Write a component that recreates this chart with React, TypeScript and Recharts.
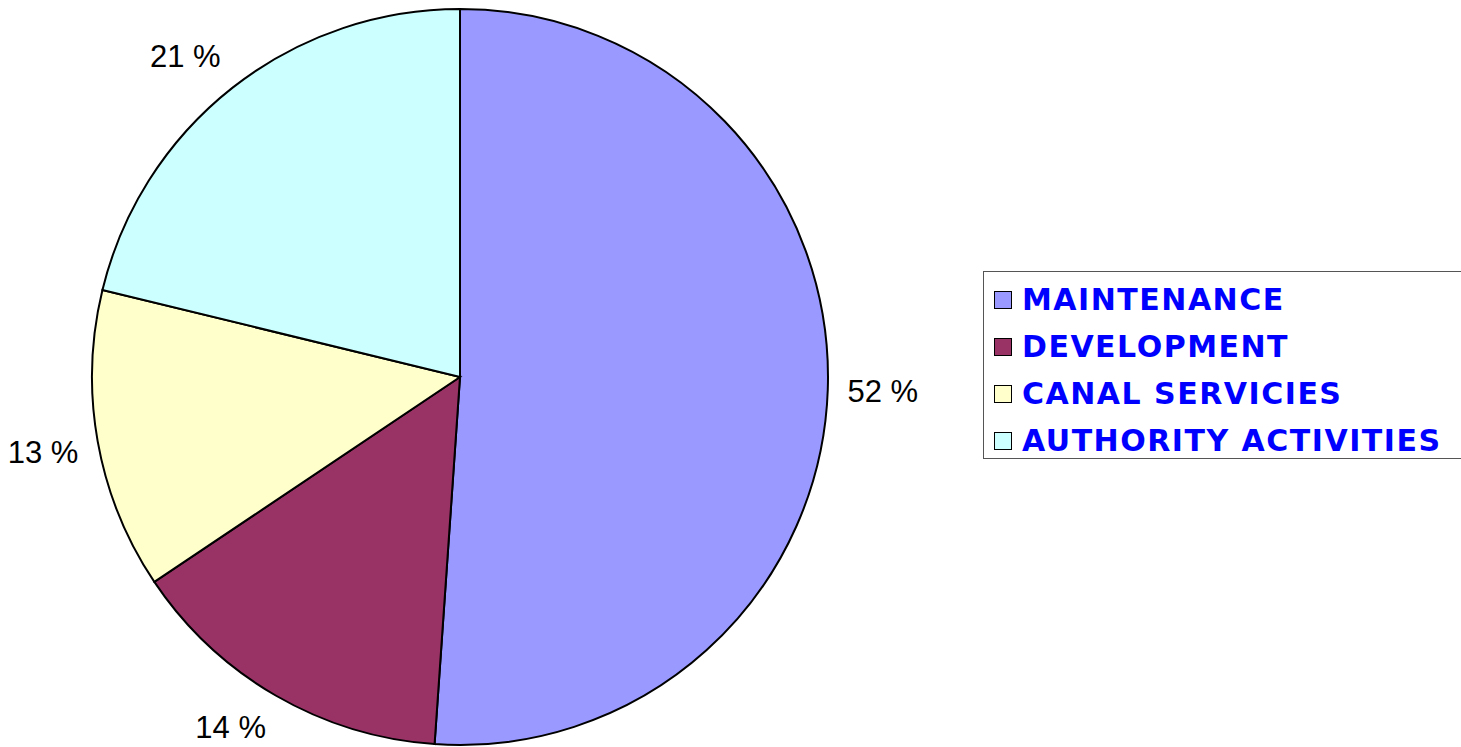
import React from "react";
import { PieChart, Pie, Cell, Legend } from "recharts";

const categories = ["MAINTENANCE", "DEVELOPMENT", "CANAL SERVICIES", "AUTHORITY ACTIVITIES"];
const values = [51.1, 14.5, 13.2, 21.2];
const percentLabels = ["52 %", "14 %", "13 %", "21 %"];
const colors = ["#9999FF", "#993366", "#FFFFCC", "#CCFFFF"];

const data = categories.map((name, i) => ({ name, value: values[i] }));

const RAD = Math.PI / 180;
const clamp = (v: number) => Math.max(-1, Math.min(1, v));

const renderLabel = (props: any) => {
  const { cx, cy, midAngle, outerRadius, index } = props;
  const r = outerRadius + 20;
  const c = Math.cos(-midAngle * RAD);
  const s = Math.sin(-midAngle * RAD);
  const w = 70;
  const h = 30;
  const x = cx + r * c + (w / 2) * clamp(c * 3);
  const y = cy + r * s + (h / 2) * clamp(s * 3);
  return (
    <text
      x={x}
      y={y}
      textAnchor="middle"
      dominantBaseline="central"
      fill="#000"
      fontFamily="'Liberation Sans', Arial, sans-serif"
      fontSize={31}
    >
      {percentLabels[index]}
    </text>
  );
};

const LegendContent = () => (
  <div
    style={{
      border: "1.5px solid #555",
      background: "#fff",
      boxSizing: "border-box",
      width: 480,
      height: 188,
      paddingLeft: 10,
      paddingTop: 4,
      overflow: "visible",
    }}
  >
    {categories.map((c, i) => (
      <div key={c} style={{ display: "flex", alignItems: "center", height: 47 }}>
        <div
          style={{
            width: 16,
            height: 16,
            background: colors[i],
            border: "1.5px solid #000",
            marginRight: 10,
            flex: "none",
          }}
        />
        <span
          style={{
            color: "#0000FF",
            fontFamily: "'DejaVu Sans', Verdana, sans-serif",
            fontWeight: "bold",
            fontSize: 30,
            letterSpacing: 1.5,
            lineHeight: "47px",
            whiteSpace: "nowrap",
          }}
        >
          {c}
        </span>
      </div>
    ))}
  </div>
);

export default function App() {
  return (
    <div style={{ position: "absolute", left: 0, top: 0, width: 1461, height: 747, background: "#fff" }}>
      <PieChart width={1461} height={747} margin={{ top: 0, right: 0, bottom: 0, left: 0 }}>
        <Pie
          data={data}
          dataKey="value"
          nameKey="name"
          cx={460}
          cy={377}
          outerRadius={368}
          startAngle={90}
          endAngle={-270}
          stroke="#000"
          strokeWidth={2}
          label={renderLabel}
          labelLine={false}
          isAnimationActive={false}
        >
          {data.map((d, i) => (
            <Cell key={d.name} fill={colors[i]} />
          ))}
        </Pie>
        <Legend
          content={<LegendContent />}
          wrapperStyle={{ position: "absolute", left: 983, top: 271, width: 480, height: 188 }}
        />
      </PieChart>
    </div>
  );
}
